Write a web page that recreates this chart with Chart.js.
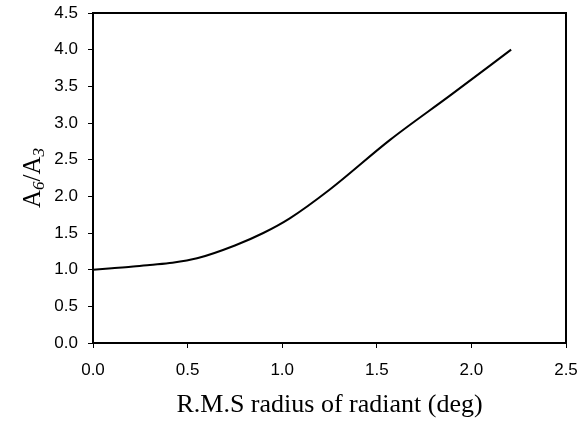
<!DOCTYPE html>
<html>
<head>
<meta charset="utf-8">
<script src="https://cdn.jsdelivr.net/npm/chart.js@4.4.1/dist/chart.umd.min.js"></script>
<style>
  html, body { margin: 0; padding: 0; background: #fff; }
</style>
</head>
<body>
<canvas id="chart" width="579" height="423"></canvas>
<script>
// values
const radius = [0, 0.1, 0.2, 0.3, 0.42, 0.55, 0.75, 0.9, 1.04, 1.25, 1.57, 1.89, 2.21];
const ratio = [1.0, 1.02, 1.04, 1.065, 1.095, 1.155, 1.33, 1.5, 1.7, 2.09, 2.77, 3.38, 4.0];

const xTitle = 'R.M.S radius of radiant (deg)';
const yTitleParts = [['A', false], ['6', true], ['/A', false], ['3', true]];

const tickFont = { family: 'Liberation Sans, Arial', size: 17 };
const titleFont = 'Liberation Serif, Times New Roman';

// frame on top/right + y title with subscripts
const extras = {
  id: 'extras',
  afterDraw(chart) {
    const ctx = chart.ctx;
    const a = chart.chartArea;
    ctx.save();
    ctx.strokeStyle = '#000';
    ctx.lineWidth = 2;
    ctx.strokeRect(a.left, a.top, a.right - a.left, a.bottom - a.top);

    // y axis title, rotated
    ctx.translate(31, (a.top + a.bottom) / 2);
    ctx.rotate(-Math.PI / 2);
    ctx.fillStyle = '#000';
    ctx.textBaseline = 'alphabetic';
    let w = 0;
    yTitleParts.forEach(([t, sub]) => {
      ctx.font = sub ? `italic 17px ${titleFont}` : `25px ${titleFont}`;
      w += ctx.measureText(t).width;
    });
    let x = -w / 2;
    yTitleParts.forEach(([t, sub]) => {
      ctx.font = sub ? `italic 17px ${titleFont}` : `25px ${titleFont}`;
      ctx.fillText(t, x, sub ? 13 : 9);
      x += ctx.measureText(t).width;
    });
    ctx.restore();
  }
};

new Chart(document.getElementById('chart'), {
  type: 'line',
  data: {
    datasets: [{
      data: radius.map((r, i) => ({ x: r, y: ratio[i] })),
      borderColor: '#000',
      borderWidth: 2,
      pointRadius: 0,
      cubicInterpolationMode: 'monotone',
      fill: false
    }]
  },
  options: {
    responsive: false,
    animation: false,
    devicePixelRatio: 1,
    layout: { padding: { left: 0, right: 13, top: 13, bottom: 0 } },
    plugins: { legend: { display: false }, tooltip: { enabled: false } },
    scales: {
      x: {
        type: 'linear',
        min: 0, max: 2.5,
        afterFit: (s) => { s.height = 80; s.paddingLeft = 0; s.paddingRight = 0; },
        ticks: {
          stepSize: 0.5, padding: 12, color: '#000', font: tickFont,
          maxRotation: 0,
          callback: (v) => v.toFixed(1)
        },
        grid: { drawOnChartArea: false, tickLength: 5, tickColor: '#000', tickWidth: 1 },
        border: { display: true, color: '#000', width: 2 },
        title: {
          display: true, text: xTitle, color: '#000',
          font: { family: titleFont, size: 26 },
          padding: { top: 0, bottom: 2 }
        }
      },
      y: {
        min: 0, max: 4.5,
        afterFit: (s) => { s.width = 93; s.paddingTop = 0; s.paddingBottom = 0; },
        ticks: {
          stepSize: 0.5, padding: 10, color: '#000', font: tickFont,
          callback: (v) => v.toFixed(1)
        },
        grid: { drawOnChartArea: false, tickLength: 5, tickColor: '#000', tickWidth: 1 },
        border: { display: true, color: '#000', width: 2 }
      }
    }
  },
  plugins: [extras]
});
</script>
</body>
</html>
